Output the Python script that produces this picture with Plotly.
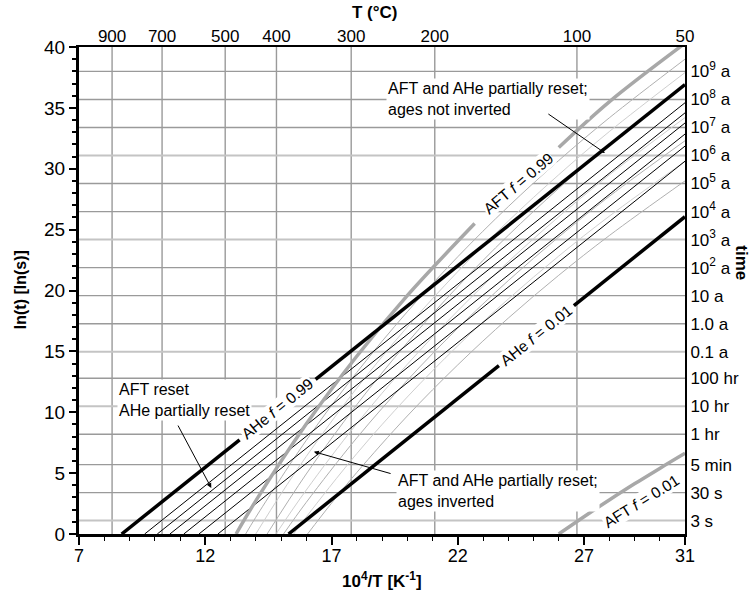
import plotly.graph_objects as go

# ---------------- data ----------------
x_range = [7, 31]
y_range = [0, 40]
x_ticks = [7, 12, 17, 22, 27, 31]
y_ticks = [0, 5, 10, 15, 20, 25, 30, 35, 40]

temp_labels = ["900", "700", "500", "400", "300", "200", "100", "50"]
temp_pos = [8.31, 10.29, 12.79, 14.82, 17.78, 21.09, 26.72, 31.0]

time_labels = ["10<sup>9</sup> a", "10<sup>8</sup> a", "10<sup>7</sup> a", "10<sup>6</sup> a",
               "10<sup>5</sup> a", "10<sup>4</sup> a", "10<sup>3</sup> a", "10<sup>2</sup> a",
               "10 a", "1.0 a", "0.1 a", "100 hr", "10 hr", "1 hr", "5 min", "30 s", "3 s"]
time_lnt = [38.0, 35.69, 33.39, 31.09, 28.79, 26.48, 24.18, 21.88, 19.58, 17.27,
            14.97, 12.79, 10.49, 8.19, 5.70, 3.40, 1.10]
time_light = [False, False, False, True, False, False, True, False, False, False,
              True, False, True, False, False, False, True]

# AHe thick lines (f = 0.99 and f = 0.01), split for labels
ahe99_x_lo = [8.69, 13.36]
ahe99_y_lo = [0.0, 7.73]
ahe99_x_hi = [16.37, 31.0]
ahe99_y_hi = [12.71, 36.92]
ahe01_x_lo = [15.3, 23.63]
ahe01_y_lo = [0.0, 13.83]
ahe01_x_hi = [26.6, 31.0]
ahe01_y_hi = [18.76, 26.06]

# AHe thin lines: start on x axis, end on right edge
ahe_thin_x0 = [9.6, 10.1, 10.6, 11.15, 11.75, 12.5]
ahe_thin_y31 = [35.42, 34.59, 33.76, 32.85, 31.86, 30.62]

# AFT thick lines
aft99_x_lo = [13.22, 14.0, 16.0, 18.0, 20.0, 22.67]
aft99_y_lo = [0.0, 2.72, 9.03, 14.6, 19.58, 25.5]
aft99_x_hi = [26.0, 28.0, 31.0]
aft99_y_hi = [31.75, 35.5, 40.31]
aft01_x = [26.0, 27.0, 28.0, 29.0, 30.0, 31.0]
aft01_y = [0.0, 1.42, 2.79, 4.12, 5.39, 6.63]

# AFT thin curves
aft_thin_x = [
    [13.6, 14, 16, 18, 20, 22, 24, 26, 28, 31],
    [14.0, 15, 16, 18, 20, 22, 24, 26, 28, 31],
    [14.45, 16, 18, 20, 22, 24, 26, 28, 31],
    [14.8, 16, 18, 20, 22, 24, 26, 28, 31],
    [15.1, 16, 18, 20, 22, 24, 26, 28, 31],
    [15.5, 16, 18, 20, 22, 24, 26, 28, 31],
    [16.05, 17, 18, 20, 22, 24, 26, 28, 31],
]
aft_thin_y = [
    [0, 1.37, 7.69, 13.27, 18.25, 22.77, 26.89, 30.68, 34.18, 39.0],
    [0, 3.29, 6.37, 11.98, 17.0, 21.55, 25.7, 29.51, 33.05, 37.9],
    [0, 4.93, 10.62, 15.71, 20.32, 24.53, 28.39, 31.98, 36.9],
    [0, 3.61, 9.06, 13.93, 18.33, 22.36, 26.06, 29.49, 34.2],
    [0, 2.6, 7.89, 12.62, 16.9, 20.81, 24.4, 27.73, 32.3],
    [0, 1.4, 6.6, 11.25, 15.46, 19.3, 22.83, 26.1, 30.6],
    [0, 2.53, 5.05, 9.69, 13.89, 17.73, 21.25, 24.51, 29.0],
]
aft_thin_color = ["#b0b0b0", "#cfcfcf", "#b0b0b0", "#cfcfcf", "#b0b0b0", "#cfcfcf", "#b0b0b0"]

FONT = "Liberation Sans, Arial, sans-serif"

fig = go.Figure()

# AFT thin curves
for xs, ys, c in zip(aft_thin_x, aft_thin_y, aft_thin_color):
    fig.add_trace(go.Scatter(x=xs, y=ys, mode="lines", line=dict(color=c, width=1, shape="spline"),
                             hoverinfo="skip", showlegend=False))

# AHe thin lines
for x0, y31 in zip(ahe_thin_x0, ahe_thin_y31):
    fig.add_trace(go.Scatter(x=[x0, 31.0], y=[0.0, y31], mode="lines",
                             line=dict(color="black", width=1), hoverinfo="skip", showlegend=False))

# AFT thick
for xs, ys in [(aft99_x_lo, aft99_y_lo), (aft99_x_hi, aft99_y_hi), (aft01_x, aft01_y)]:
    fig.add_trace(go.Scatter(x=xs, y=ys, mode="lines", line=dict(color="#a8a8a8", width=3.5, shape="spline"),
                             hoverinfo="skip", showlegend=False))

# AHe thick
for xs, ys in [(ahe99_x_lo, ahe99_y_lo), (ahe99_x_hi, ahe99_y_hi), (ahe01_x_lo, ahe01_y_lo), (ahe01_x_hi, ahe01_y_hi)]:
    fig.add_trace(go.Scatter(x=xs, y=ys, mode="lines", line=dict(color="black", width=3.5),
                             hoverinfo="skip", showlegend=False))

# invisible trace for secondary axes
fig.add_trace(go.Scatter(x=[7, 31], y=[0, 40], xaxis="x2", yaxis="y2", mode="markers",
                         marker=dict(opacity=0), hoverinfo="skip", showlegend=False))

# grid lines as shapes
shapes = []
for xp in temp_pos[:-1]:
    shapes.append(dict(type="line", xref="x", yref="y", x0=xp, x1=xp, y0=0, y1=40,
                       line=dict(color="#9a9a9a", width=1.4), layer="below"))
for yv, light in zip(time_lnt, time_light):
    shapes.append(dict(type="line", xref="x", yref="y", x0=7, x1=31, y0=yv, y1=yv,
                       line=dict(color="#c4c4c4" if light else "#9a9a9a", width=2 if light else 1.4),
                       layer="below"))

annotations = []
# axis titles
annotations.append(dict(text="<b>T (°C)</b>", xref="paper", yref="paper", x=0.488, y=1.07,
                        xanchor="center", yanchor="middle",
                        showarrow=False, font=dict(size=17, family=FONT, color="black")))
annotations.append(dict(text="<b>10<sup>4</sup>/T [K<sup>-1</sup>]</b>", xref="paper", yref="paper",
                        x=0.5, y=-0.094, xanchor="center", yanchor="middle",
                        showarrow=False, font=dict(size=17, family=FONT, color="black")))
annotations.append(dict(text="<b>ln(t) [ln(s)]</b>", xref="paper", yref="paper", x=-0.097, y=0.501,
                        xanchor="center", yanchor="middle",
                        textangle=-90, showarrow=False, font=dict(size=16, family=FONT, color="black")))
annotations.append(dict(text="<b>time</b>", xref="paper", yref="paper", x=1.094, y=0.556,
                        xanchor="center", yanchor="middle",
                        textangle=90, showarrow=False, font=dict(size=17, family=FONT, color="black")))

# region labels
annotations.append(dict(text="AFT and AHe partially reset;<br>ages not inverted", x=19.14, y=35.73,
                        xanchor="left", yanchor="middle", align="left", showarrow=False,
                        bgcolor="white", borderpad=1, font=dict(size=16, family=FONT, color="black")))
annotations.append(dict(text="AFT reset<br>AHe partially reset", x=8.51, y=10.99,
                        xanchor="left", yanchor="middle", align="left", showarrow=False,
                        bgcolor="white", borderpad=1, font=dict(size=16, family=FONT, color="black")))
annotations.append(dict(text="AFT and AHe partially reset;<br>ages inverted", x=19.54, y=3.53,
                        xanchor="left", yanchor="middle", align="left", showarrow=False,
                        bgcolor="white", borderpad=1, font=dict(size=16, family=FONT, color="black")))

# arrows
for (ex, ey, sx, sy) in [(27.83, 31.29, 25.53, 34.58), (12.24, 3.78, 10.89, 9.03), (16.3, 6.76, 19.4, 4.93)]:
    annotations.append(dict(text="", x=ex, y=ey, ax=sx, ay=sy, axref="x", ayref="y", showarrow=True,
                            arrowhead=2, arrowsize=1, arrowwidth=1, arrowcolor="black"))

# line labels
for (txt, lx, ly, ang) in [("AHe <i>f</i> = 0.99", 14.86, 10.3, -38.7),
                           ("AHe <i>f</i> = 0.01", 25.1, 16.3, -38.7),
                           ("AFT <i>f</i> = 0.99", 24.4, 28.75, -40),
                           ("AFT <i>f</i> = 0.01", 29.26, 2.63, -32)]:
    annotations.append(dict(text=txt, x=lx, y=ly, textangle=ang, showarrow=False, bgcolor="white",
                            borderpad=0, font=dict(size=15.5, family=FONT, color="black")))

fig.update_layout(
    width=753, height=597,
    margin=dict(l=79, r=68, t=47, b=63),
    paper_bgcolor="white", plot_bgcolor="white",
    font=dict(family=FONT, color="black"),
    showlegend=False,
    shapes=shapes,
    annotations=annotations,
    xaxis=dict(range=x_range, tickvals=x_ticks, ticks="outside", ticklen=8, tickwidth=1.5, tickcolor="black",
               showgrid=False, zeroline=False, showline=True, linewidth=3, linecolor="black",
               tickfont=dict(size=18, family=FONT), ticklabelstandoff=-5,
               minor=dict(tick0=7, dtick=1, ticks="outside", ticklen=4, tickwidth=1, tickcolor="black", showgrid=False)),
    yaxis=dict(range=y_range, tickvals=y_ticks, ticks="outside", ticklen=7, tickwidth=2, tickcolor="black",
               showgrid=False, zeroline=False, showline=True, linewidth=3, linecolor="black",
               tickfont=dict(size=19, family=FONT),
               minor=dict(tick0=0, dtick=1, ticks="outside", ticklen=4, tickwidth=1.5, tickcolor="black", showgrid=False)),
    xaxis2=dict(range=x_range, overlaying="x", side="top", tickvals=temp_pos, ticktext=temp_labels, ticks="",
                showgrid=False, zeroline=False, showline=True, linewidth=2, linecolor="black",
                tickfont=dict(size=17, family=FONT), ticklabelstandoff=-4),
    yaxis2=dict(range=y_range, overlaying="y", side="right", tickvals=time_lnt, ticktext=time_labels, ticks="",
                showgrid=False, zeroline=False, showline=True, linewidth=2, linecolor="black",
                tickfont=dict(size=17, family=FONT)),
)

fig.write_html("out.html")
